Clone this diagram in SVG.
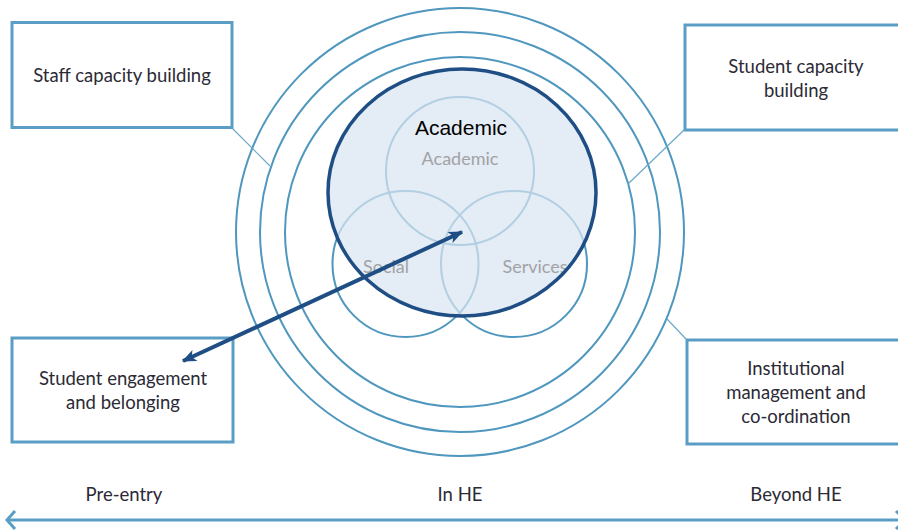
<svg xmlns="http://www.w3.org/2000/svg" width="898" height="530" viewBox="0 0 898 530">
  <defs>
    <style>
      .ring { fill: none; stroke: #4f97be; stroke-width: 2; }
      .venn { fill: none; stroke: #4f97be; stroke-width: 2; }
      .box { fill: #ffffff; stroke: #5a9ec5; stroke-width: 3; }
      .link { fill: none; stroke: #6aa8c9; stroke-width: 1.2; }
      .label { font-family: Lato, "Open Sans", sans-serif; font-size: 18.5px; fill: #2b2a35; text-anchor: middle; }
      .vlabel { font-family: Lato, "Open Sans", sans-serif; font-size: 18px; fill: #a2a2a6; text-anchor: middle; }
      .axis { fill: none; stroke: #5a9ec5; stroke-width: 3; }
    </style>
    <marker id="barb" viewBox="0 0 12 10" refX="11" refY="5" markerWidth="15" markerHeight="12" markerUnits="userSpaceOnUse" orient="auto-start-reverse">
      <path d="M0,0 L12,5 L0,10 L3,5 Z" fill="#1f4e85"/>
    </marker>
  </defs>

  <!-- concentric rings -->
  <g id="rings">
    <circle class="ring" cx="460" cy="232" r="224"/>
    <circle class="ring" cx="460" cy="232" r="200"/>
    <circle class="ring" cx="460" cy="232" r="175"/>
  </g>

  <!-- three overlapping domains -->
  <g id="venn">
    <circle class="venn" cx="460" cy="171" r="74"/>
    <circle class="venn" cx="405.5" cy="264" r="73"/>
    <circle class="venn" cx="514" cy="264" r="73"/>
  </g>

  <!-- highlighted academic domain: tinted veil, labels, outline -->
  <g id="academic">
    <ellipse cx="462" cy="192.5" rx="134" ry="123.5" fill="#d9e4f1" fill-opacity="0.72"/>
    <text class="vlabel" x="460" y="165">Academic</text>
    <text class="vlabel" x="386" y="273">Social</text>
    <text class="vlabel" x="535" y="273">Services</text>
    <ellipse cx="462" cy="192.5" rx="134" ry="123.5" fill="none" stroke="#1f4e85" stroke-width="3.5"/>
    <text x="461" y="135" font-family="Liberation Sans, Arial, sans-serif" font-size="21" fill="#000000" text-anchor="middle">Academic</text>
  </g>

  <g id="staff">
    <rect class="box" x="12" y="22.5" width="220" height="105"/>
    <text class="label" x="122" y="82">Staff capacity building</text>
  </g>

  <g id="student-capacity">
    <rect class="box" x="685" y="25" width="220" height="105"/>
    <text class="label" x="796" y="73">Student capacity</text>
    <text class="label" x="796" y="97">building</text>
  </g>

  <g id="student-engagement">
    <rect class="box" x="12" y="338" width="221" height="104"/>
    <text class="label" x="123" y="385">Student engagement</text>
    <text class="label" x="123" y="409">and belonging</text>
  </g>

  <g id="institutional">
    <rect class="box" x="687" y="340" width="220" height="104"/>
    <text class="label" x="796" y="375">Institutional</text>
    <text class="label" x="796" y="399">management and</text>
    <text class="label" x="796" y="423">co-ordination</text>
  </g>

  <!-- leader lines from boxes to rings, and the two-way arrow -->
  <g id="connectors">
    <line class="link" x1="232" y1="128" x2="270" y2="166"/>
    <line class="link" x1="684" y1="130" x2="628" y2="184"/>
    <line class="link" x1="686" y1="339" x2="667" y2="319"/>
    <line x1="183" y1="361" x2="462" y2="232" stroke="#1f4e85" stroke-width="4" marker-start="url(#barb)" marker-end="url(#barb)"/>
  </g>

  <!-- time axis -->
  <g id="axis">
    <line class="axis" x1="7" y1="520" x2="898" y2="520"/>
    <path class="axis" stroke-width="2" d="M15,511 L7,520 L15,529"/>
    <path class="axis" stroke-width="2" d="M896,511 L905,520 L896,529"/>
    <text class="label" x="124" y="501">Pre-entry</text>
    <text class="label" x="460" y="501">In HE</text>
    <text class="label" x="796" y="501">Beyond HE</text>
  </g>
</svg>
